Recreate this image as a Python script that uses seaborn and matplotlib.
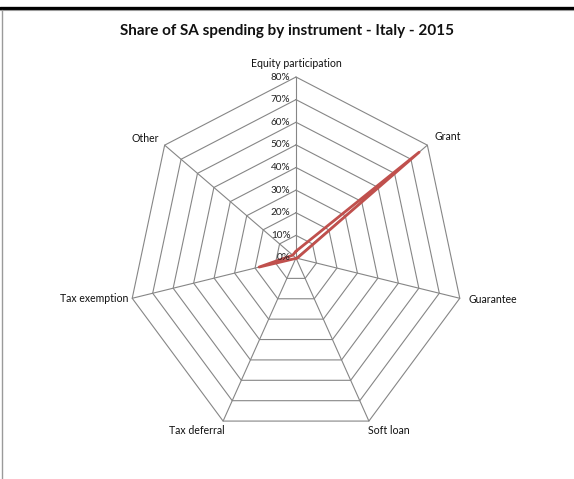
import numpy as np
import pandas as pd
import matplotlib
matplotlib.use("Agg")
import matplotlib.pyplot as plt
from matplotlib.lines import Line2D
import seaborn as sns

# ── Data ──────────────────────────────────────────────────────────────────────
categories = ["Equity participation", "Grant", "Guarantee", "Soft loan",
              "Tax deferral", "Tax exemption", "Other"]
shares = [3.0, 75.0, 0.5, 0.3, 0.2, 18.0, 2.0]   # % of SA spending
ring_levels = [10, 20, 30, 40, 50, 60, 70, 80]
tick_labels = ["0%", "10%", "20%", "30%", "40%", "50%", "60%", "70%", "80%"]
title = "Share of SA spending by instrument - Italy - 2015"

# ── Style ─────────────────────────────────────────────────────────────────────
sns.set_style("white")
plt.rcParams["font.family"] = ["Lato", "DejaVu Sans"]
GRID = "#868686"
RED = "#C0504D"

W, H = 574, 479
cx, cy = 296, 258          # chart centre, pixels from top-left
sx, sy = 168 / 80, 181 / 80  # pixels per percent

fig = plt.figure(figsize=(W / 100, H / 100), dpi=100)
ax = fig.add_axes([0, 0, 1, 1])

n = len(categories)
angles = np.pi / 2 - np.arange(n) * 2 * np.pi / n
ux, uy = np.cos(angles), np.sin(angles)

# polygon grid
for r in ring_levels:
    ax.plot(np.append(ux, ux[0]) * r, np.append(uy, uy[0]) * r,
            color=GRID, lw=0.8, zorder=1)
for i in range(n):
    ax.plot([0, ux[i] * ring_levels[-1]], [0, uy[i] * ring_levels[-1]],
            color=GRID, lw=0.8, zorder=1)

# data series
vals = np.array(shares)
df = pd.DataFrame({"x": np.append(ux * vals, ux[0] * vals[0]),
                   "y": np.append(uy * vals, uy[0] * vals[0])})
sns.lineplot(data=df, x="x", y="y", sort=False, estimator=None,
             color=RED, lw=2.0, ax=ax, zorder=3)
ax.set_xlim(-cx / sx, (W - cx) / sx)
ax.set_ylim(-(H - cy) / sy, cy / sy)
ax.axis("off")

# radial tick labels along the first spoke
for lab, r in zip(tick_labels, [0] + ring_levels):
    ax.annotate(lab, (0, r), xytext=(-4, 0), textcoords="offset points",
                ha="right", va="center", fontsize=7.2, color="#222222")

# category labels
label_opts = [("center", "bottom", (0, 6)),
              ("left", "bottom", (5, 2)),
              ("left", "center", (6, -1)),
              ("left", "top", (-1, -3)),
              ("right", "top", (1, -3)),
              ("right", "center", (-3, 0)),
              ("right", "bottom", (-4, 1))]
for i, (cat, (ha, va, off)) in enumerate(zip(categories, label_opts)):
    ax.annotate(cat, (ux[i] * ring_levels[-1], uy[i] * ring_levels[-1]),
                xytext=off, textcoords="offset points",
                ha=ha, va=va, fontsize=7.6, color="#111111")

fig.text(0.5, 1 - 31 / H, title, ha="center", va="center",
         fontsize=11, fontweight="bold", color="#111111")

# chart frame remnants (top rule and left border)
fig.add_artist(Line2D([0, 1], [1 - 7.5 / H] * 2, color="black", lw=2.4))
fig.add_artist(Line2D([0, 1], [1 - 9.5 / H] * 2, color="#9a9a9a", lw=0.8))
fig.add_artist(Line2D([1.5 / W] * 2, [0, 1 - 9.5 / H], color="#9a9a9a", lw=1.0))

fig.savefig("out.png", dpi=100)
